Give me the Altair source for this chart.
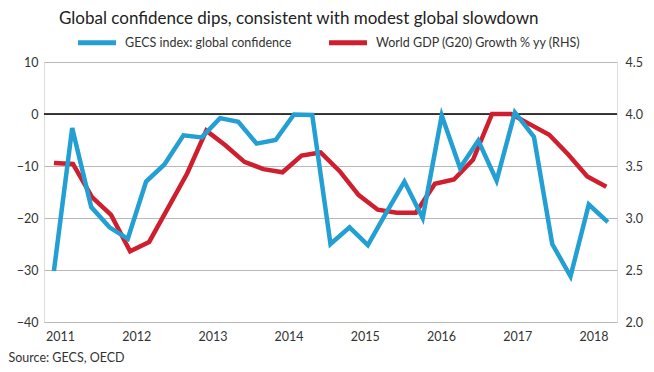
import altair as alt
import pandas as pd

# ---- data ----
gecs_year = [2010.92, 2011.16, 2011.41, 2011.65, 2011.89, 2012.13, 2012.37, 2012.62,
             2012.86, 2013.10, 2013.34, 2013.58, 2013.83, 2014.07, 2014.31, 2014.55,
             2014.80, 2015.04, 2015.28, 2015.52, 2015.76, 2016.01, 2016.25, 2016.49,
             2016.73, 2016.97, 2017.22, 2017.46, 2017.70, 2017.94, 2018.19]
gecs_value = [-30.2, -2.7, -17.9, -21.8, -24.0, -13.0, -9.7, -4.1,
              -4.5, -0.8, -1.5, -5.7, -5.0, -0.1, -0.2, -25.0,
              -21.8, -25.2, -19.0, -13.0, -20.0, -0.3, -10.4, -5.1,
              -12.8, 0.3, -4.4, -25.0, -31.2, -17.4, -20.8]

gdp_year = [2010.92, 2011.17, 2011.42, 2011.67, 2011.92, 2012.17, 2012.42, 2012.67,
            2012.92, 2013.17, 2013.42, 2013.67, 2013.92, 2014.17, 2014.42, 2014.67,
            2014.92, 2015.17, 2015.42, 2015.67, 2015.92, 2016.17, 2016.42, 2016.67,
            2016.92, 2017.17, 2017.42, 2017.67, 2017.92, 2018.17]
gdp_value = [3.53, 3.52, 3.20, 3.03, 2.68, 2.77, 3.10, 3.43,
             3.84, 3.70, 3.54, 3.47, 3.44, 3.60, 3.63, 3.45,
             3.22, 3.08, 3.05, 3.05, 3.33, 3.37, 3.56, 4.00,
             4.00, 3.90, 3.80, 3.61, 3.40, 3.30]

series_names = ["GECS index: global confidence", "World GDP (G20) Growth % yy (RHS)"]
series_colors = ["#239fd3", "#cf1f2e"]
year_ticks = [2011, 2012, 2013, 2014, 2015, 2016, 2017, 2018]
left_ticks = [-40, -30, -20, -10, 0, 10]
right_ticks = [2.0, 2.5, 3.0, 3.5, 4.0, 4.5]
zero_line = [0]

title_text = "Global confidence dips, consistent with modest global slowdown"
source_text = "Source: GECS, OECD"

FONT = "Lato"
TXT = "#333333"

df_b = pd.DataFrame({"year": gecs_year, "value": gecs_value, "series": series_names[0]})
df_r = pd.DataFrame({"year": gdp_year, "value": gdp_value, "series": series_names[1]})
df_z = pd.DataFrame({"z": zero_line})

xscale = alt.Scale(domain=[2010.79, 2018.31], nice=False, zero=False)
xaxis = alt.Axis(values=year_ticks, format="d", grid=False, ticks=False, domain=False,
                 labelFont=FONT, labelFontSize=12.5, labelColor=TXT, labelPadding=8,
                 title=source_text, titleFont=FONT, titleFontSize=12.5, titleFontWeight="normal",
                 titleColor=TXT, titleAnchor="start", titleAlign="left", titleBaseline="middle",
                 titleX=-36, titleY=35)

left_scale = alt.Scale(domain=[-40, 10], nice=False, zero=False)
right_scale = alt.Scale(domain=[2.0, 4.5], nice=False, zero=False)

color_scale = alt.Scale(domain=series_names, range=series_colors)
legend = alt.Legend(orient="none", legendX=45.5, legendY=-27, direction="horizontal",
                    title=None, symbolType="M-4,0L4,0", symbolStrokeWidth=5, symbolSize=90,
                    labelFont=FONT, labelFontSize=12.5, labelColor=TXT, labelOffset=20.5,
                    columnPadding=27, padding=0, labelLimit=400)

rule = alt.Chart(df_z).mark_rule(color="black", strokeWidth=1.5).encode(
    y=alt.Y("z:Q", scale=left_scale, axis=None)
)

blue = alt.Chart(df_b).mark_line(strokeWidth=4.5, strokeJoin="miter").encode(
    x=alt.X("year:Q", scale=xscale, axis=xaxis),
    y=alt.Y("value:Q", scale=left_scale,
            axis=alt.Axis(values=left_ticks, format="d", grid=True, gridColor="#b8b8b8",
                          gridWidth=1, ticks=False, domain=False, title=None,
                          labelFont=FONT, labelFontSize=12.5, labelColor=TXT, labelPadding=6)),
    color=alt.Color("series:N", scale=color_scale, legend=legend),
)

red = alt.Chart(df_r).mark_line(strokeWidth=4.5, strokeJoin="miter").encode(
    x=alt.X("year:Q", scale=xscale, axis=xaxis),
    y=alt.Y("value:Q", scale=right_scale,
            axis=alt.Axis(orient="right", values=right_ticks, format=".1f", grid=False,
                          ticks=False, domain=False, title=None,
                          labelFont=FONT, labelFontSize=12.5, labelColor=TXT, labelPadding=8)),
    color=alt.Color("series:N", scale=color_scale, legend=legend),
)

chart = alt.layer(rule, red, blue).resolve_scale(y="independent").properties(
    width=573, height=260,
    autosize=alt.AutoSizeParams(type="none"),
    padding={"left": 36, "top": 54, "right": 29, "bottom": 42},
    title=alt.TitleParams(title_text, anchor="start", frame="group", dx=15,
                          font=FONT, fontSize=17, fontWeight="normal", color="#222222",
                          offset=7),
).configure_view(stroke=None).configure(background="white")

chart.save("out.html", embed_options={"renderer": "svg", "actions": False})
